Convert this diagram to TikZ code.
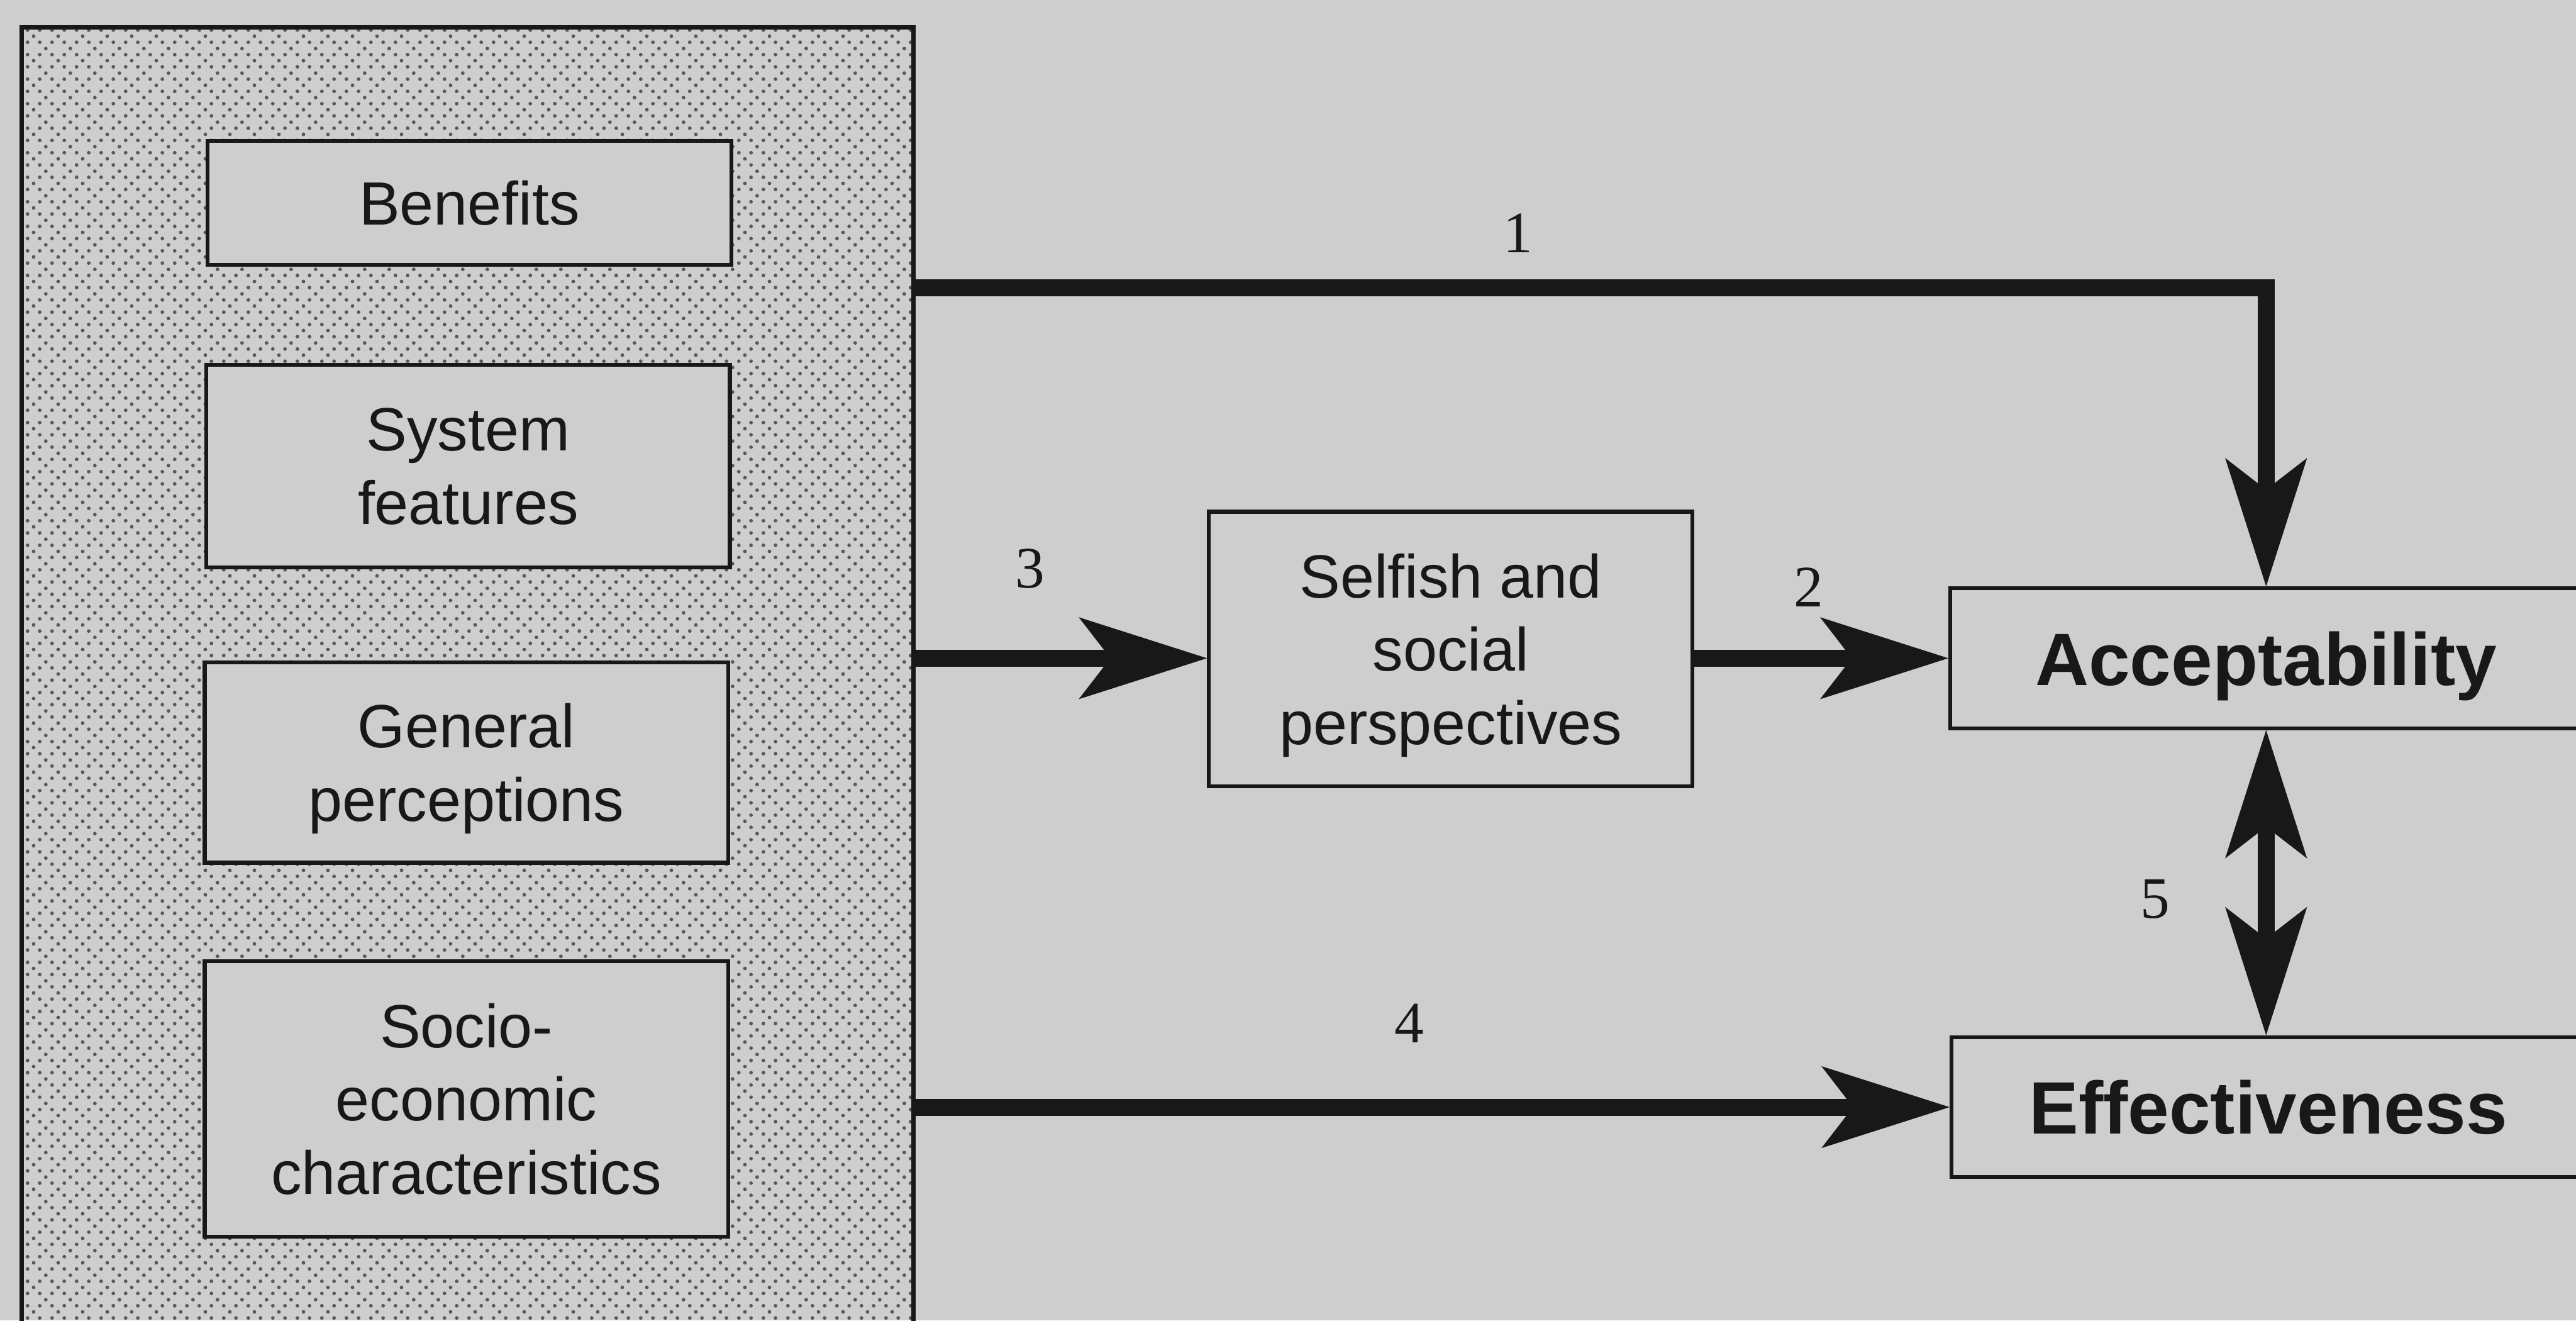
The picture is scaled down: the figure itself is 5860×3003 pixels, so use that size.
\documentclass[tikz,border=0pt]{standalone}
\usepackage{fontspec}
\setmainfont{Liberation Sans}
\newfontfamily\numfont{Liberation Serif}
\usetikzlibrary{arrows.meta,patterns}
\definecolor{bgc}{RGB}{206,206,206}
\definecolor{ink}{RGB}{24,24,24}
\definecolor{dotc}{RGB}{88,88,88}
\pgfdeclarepatternformonly{bigdots}{\pgfqpoint{0pt}{0pt}}{\pgfqpoint{16pt}{16pt}}{\pgfqpoint{16pt}{16pt}}{%
  \pgfpathcircle{\pgfqpoint{2pt}{2pt}}{1.2pt}%
  \pgfpathcircle{\pgfqpoint{10pt}{2pt}}{1.2pt}%
  \pgfpathcircle{\pgfqpoint{2pt}{10pt}}{1.2pt}%
  \pgfpathcircle{\pgfqpoint{10pt}{10pt}}{1.2pt}%
  \pgfpathcircle{\pgfqpoint{6pt}{6pt}}{1.2pt}%
  \pgfpathcircle{\pgfqpoint{14pt}{14pt}}{1.2pt}%
  \pgfusepath{fill}}
\tikzset{
  box/.style={draw=ink, line width=2.5pt, fill=bgc, text=ink, align=center,
    font=\fontsize{39.5}{47.5}\selectfont, inner sep=0pt, text depth=0pt},
  result/.style={box, font=\bfseries\fontsize{48}{56}\selectfont},
  bigbox/.style={draw=ink, line width=2.8pt, pattern=bigdots, pattern color=dotc, inner sep=0pt},
  flow/.style={draw=ink, line width=11pt, -{Stealth[length=83pt,width=53pt,inset=20.5pt,line width=0pt]}},
  flowboth/.style={draw=ink, line width=11pt, {Stealth[length=83pt,width=53pt,inset=20.5pt,line width=0pt]}-{Stealth[length=83pt,width=53pt,inset=20.5pt,line width=0pt]}},
  num/.style={text=ink, font=\numfont\fontsize{38}{40}\selectfont, inner sep=0pt}
}
\begin{document}
\begin{tikzpicture}[x=0.01cm, y=-0.01cm]
  \fill[bgc] (0,0) rectangle (5860,3003);
  \useasboundingbox (0,0) rectangle (5860,3003);

  % left group
  \node[bigbox, minimum width=20.27cm, minimum height=30.4cm] (big) at (1063.5,1583) {};
  \node[box, minimum width=11.9cm, minimum height=2.82cm] (ben) at (1068,461) {Benefits};
  \node[box, minimum width=11.9cm, minimum height=4.6cm] (sys) at (1065,1060) {System\\features};
  \node[box, minimum width=11.9cm, minimum height=4.56cm] (gen) at (1061,1734) {General\\perceptions};
  \node[box, minimum width=11.9cm, minimum height=6.26cm] (soc) at (1061,2499) {Socio-\\economic\\characteristics};

  % middle and right
  \node[box, minimum width=10.99cm, minimum height=6.24cm] (sel) at (3300,1476) {Selfish and\\social\\perspectives};
  \node[result, minimum width=14.36cm, minimum height=3.18cm] (acc) at (5155,1497) {Acceptability};
  \node[result, minimum width=14.4cm, minimum height=3.18cm] (eff) at (5160,2518) {Effectiveness};

  % connectors
  \coordinate (k1) at (2077,655);
  \draw[flow] (big.east |- k1) -| (acc.north);
  \draw[flow] (big.east |- acc.west) -- (sel.west |- acc.west);
  \draw[flow] (sel.east |- acc.west) -- (acc.west);
  \draw[flow] (big.east |- eff.west) -- (eff.west);
  \draw[flowboth] (acc.south) -- (acc.south |- eff.north);

  % labels
  \node[num] (l1) at (3453,531) {1};
  \node[num] (l2) at (4115,1335) {2};
  \node[num] (l3) at (2343,1293) {3};
  \node[num] (l4) at (3206,2328) {4};
  \node[num] (l5) at (4903,2045) {5};
\end{tikzpicture}
\end{document}
